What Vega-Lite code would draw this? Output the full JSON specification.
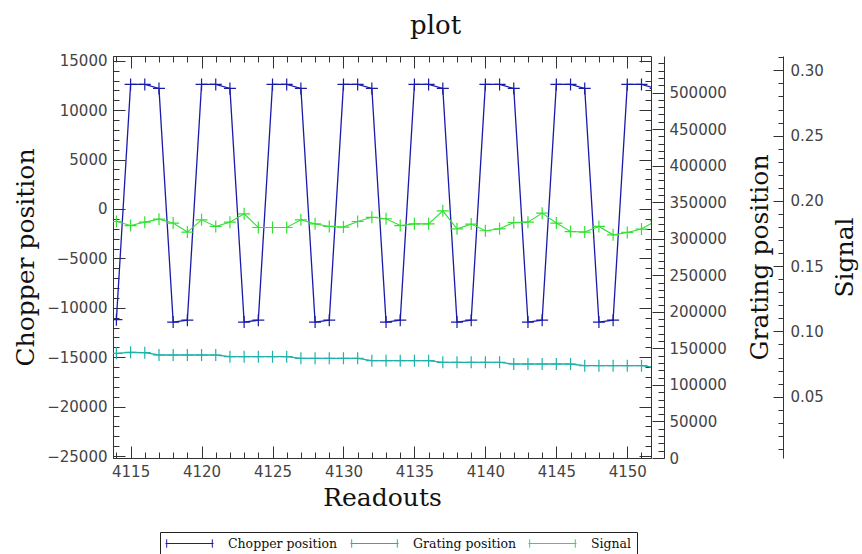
{
  "$schema": "https://vega.github.io/schema/vega-lite/v6.json",
  "autosize": "none",
  "width": 538,
  "height": 402,
  "padding": {"left": 113, "top": 56, "right": 211, "bottom": 96},
  "background": "white",
  "title": {"text": "plot", "font": "DejaVu Serif", "fontSize": 26, "fontWeight": "normal", "color": "#111", "anchor": "middle", "frame": "bounds", "offset": 15},
  "config": {
    "view": {"stroke": "#333", "strokeWidth": 1},
    "axis": {
      "grid": false,
      "labelFont": "DejaVu Sans",
      "labelFontSize": 15,
      "labelColor": "#444",
      "tickColor": "#333",
      "domainColor": "#333",
      "tickWidth": 1,
      "titleFont": "DejaVu Serif",
      "titleFontSize": 25,
      "titleFontWeight": "normal",
      "titleColor": "#111"
    },
    "legend": {
      "orient": "none", "legendX": 47, "legendY": 476, "direction": "horizontal", "strokeColor": "#222", "padding": 5,
      "symbolType": "M-1,0L7,0M-0.8,-0.7L-0.8,0.7M6.8,-0.7L6.8,0.7", "symbolSize": 144, "symbolStrokeWidth": 1, "symbolFillColor": "transparent",
      "labelFont": "DejaVu Serif", "labelFontSize": 12.5, "labelColor": "#111", "labelOffset": 50, "columnPadding": 10
    }
  },
  "data": {
    "values": [
      {"r": 4114, "c": -11200, "g": 143200, "s": 0.1842},
      {"r": 4115, "c": 12600, "g": 144600, "s": 0.1811},
      {"r": 4116, "c": 12600, "g": 144100, "s": 0.1837},
      {"r": 4117, "c": 12200, "g": 140900, "s": 0.1860},
      {"r": 4118, "c": -11450, "g": 140900, "s": 0.1830},
      {"r": 4119, "c": -11250, "g": 140900, "s": 0.1761},
      {"r": 4120, "c": 12600, "g": 140900, "s": 0.1855},
      {"r": 4121, "c": 12600, "g": 140900, "s": 0.1804},
      {"r": 4122, "c": 12200, "g": 138600, "s": 0.1837},
      {"r": 4123, "c": -11450, "g": 138600, "s": 0.1901},
      {"r": 4124, "c": -11250, "g": 138600, "s": 0.1796},
      {"r": 4125, "c": 12600, "g": 138600, "s": 0.1796},
      {"r": 4126, "c": 12600, "g": 138600, "s": 0.1796},
      {"r": 4127, "c": 12200, "g": 136400, "s": 0.1855},
      {"r": 4128, "c": -11450, "g": 136400, "s": 0.1824},
      {"r": 4129, "c": -11250, "g": 136400, "s": 0.1804},
      {"r": 4130, "c": 12600, "g": 136400, "s": 0.1799},
      {"r": 4131, "c": 12600, "g": 136400, "s": 0.1842},
      {"r": 4132, "c": 12200, "g": 133100, "s": 0.1874},
      {"r": 4133, "c": -11450, "g": 133100, "s": 0.1863},
      {"r": 4134, "c": -11250, "g": 133100, "s": 0.1811},
      {"r": 4135, "c": 12600, "g": 133100, "s": 0.1824},
      {"r": 4136, "c": 12600, "g": 133100, "s": 0.1824},
      {"r": 4137, "c": 12200, "g": 130900, "s": 0.1924},
      {"r": 4138, "c": -11450, "g": 130900, "s": 0.1786},
      {"r": 4139, "c": -11250, "g": 130900, "s": 0.1822},
      {"r": 4140, "c": 12600, "g": 130900, "s": 0.1771},
      {"r": 4141, "c": 12600, "g": 130900, "s": 0.1786},
      {"r": 4142, "c": 12200, "g": 128600, "s": 0.1834},
      {"r": 4143, "c": -11450, "g": 128600, "s": 0.1837},
      {"r": 4144, "c": -11250, "g": 128600, "s": 0.1906},
      {"r": 4145, "c": 12600, "g": 128600, "s": 0.1830},
      {"r": 4146, "c": 12600, "g": 128600, "s": 0.1765},
      {"r": 4147, "c": 12200, "g": 126300, "s": 0.1761},
      {"r": 4148, "c": -11450, "g": 126300, "s": 0.1804},
      {"r": 4149, "c": -11250, "g": 126300, "s": 0.1740},
      {"r": 4150, "c": 12600, "g": 126300, "s": 0.1758},
      {"r": 4151, "c": 12600, "g": 126300, "s": 0.1784},
      {"r": 4152, "c": 12200, "g": 124000, "s": 0.1847}
    ]
  },
  "resolve": {"scale": {"y": "independent"}, "axis": {"x": "independent", "y": "independent"}},
  "layer": [
    {
      "mark": {"type": "line", "strokeWidth": 1.3, "clip": true},
      "encoding": {
        "x": {"field": "r", "type": "quantitative", "scale": {"domain": [4113.76, 4151.67], "nice": false, "zero": false},
          "axis": {"orient": "bottom", "values": [4115, 4120, 4125, 4130, 4135, 4140, 4145, 4150], "format": "d", "tickSize": -12, "labelPadding": 18, "title": "Readouts", "titlePadding": 6}},
        "y": {"field": "c", "type": "quantitative", "scale": {"domain": [-25200, 15480], "nice": false, "zero": false},
          "axis": {"orient": "left", "values": [-25000, -20000, -15000, -10000, -5000, 0, 5000, 10000, 15000], "format": "d", "tickSize": -12, "labelPadding": 18, "title": "Chopper position", "titlePadding": 8}},
        "color": {"datum": "Chopper position", "type": "nominal",
          "scale": {"domain": ["Chopper position", "Grating position", "Signal"], "range": ["#1a1aaa", "#20b2aa", "#33e033"]},
          "legend": {"title": null}}
      }
    },
    {
      "mark": {"type": "point", "shape": "M-1,0L1,0M0,-1L0,1", "filled": false, "size": 144, "strokeWidth": 1.2, "opacity": 1, "clip": true},
      "encoding": {
        "x": {"field": "r", "type": "quantitative", "scale": {"domain": [4113.76, 4151.67], "nice": false, "zero": false},
          "axis": {"orient": "bottom", "values": [4114, 4115, 4116, 4117, 4118, 4119, 4120, 4121, 4122, 4123, 4124, 4125, 4126, 4127, 4128, 4129, 4130, 4131, 4132, 4133, 4134, 4135, 4136, 4137, 4138, 4139, 4140, 4141, 4142, 4143, 4144, 4145, 4146, 4147, 4148, 4149, 4150, 4151], "tickSize": -6, "labels": false, "domain": false, "title": null}},
        "y": {"field": "c", "type": "quantitative", "scale": {"domain": [-25200, 15480], "nice": false, "zero": false},
          "axis": {"orient": "left", "values": [-25000, -24000, -23000, -22000, -21000, -20000, -19000, -18000, -17000, -16000, -15000, -14000, -13000, -12000, -11000, -10000, -9000, -8000, -7000, -6000, -5000, -4000, -3000, -2000, -1000, 0, 1000, 2000, 3000, 4000, 5000, 6000, 7000, 8000, 9000, 10000, 11000, 12000, 13000, 14000, 15000], "tickSize": -6, "labels": false, "domain": false, "title": null}},
        "color": {"datum": "Chopper position", "type": "nominal", "legend": {"title": null}}
      }
    },
    {
      "mark": {"type": "line", "strokeWidth": 1.3, "clip": true},
      "encoding": {
        "x": {"field": "r", "type": "quantitative", "scale": {"domain": [4113.76, 4151.67], "nice": false, "zero": false},
          "axis": {"orient": "top", "values": [4115, 4120, 4125, 4130, 4135, 4140, 4145, 4150], "tickSize": -12, "labels": false, "domain": false, "title": null}},
        "y": {"field": "g", "type": "quantitative", "scale": {"domain": [0, 550000], "nice": false, "zero": false},
          "axis": {"orient": "right", "offset": 13, "values": [0, 50000, 100000, 150000, 200000, 250000, 300000, 350000, 400000, 450000, 500000], "format": "d", "tickSize": -12, "labelPadding": 17, "title": "Grating position", "titleAngle": 270, "titleBaseline": "top", "titlePadding": 21}},
        "color": {"datum": "Grating position", "type": "nominal", "legend": {"title": null}}
      }
    },
    {
      "mark": {"type": "point", "shape": "M-1,0L1,0M0,-1L0,1", "filled": false, "size": 144, "strokeWidth": 1.2, "opacity": 1, "clip": true},
      "encoding": {
        "x": {"field": "r", "type": "quantitative", "scale": {"domain": [4113.76, 4151.67], "nice": false, "zero": false},
          "axis": {"orient": "top", "values": [4114, 4115, 4116, 4117, 4118, 4119, 4120, 4121, 4122, 4123, 4124, 4125, 4126, 4127, 4128, 4129, 4130, 4131, 4132, 4133, 4134, 4135, 4136, 4137, 4138, 4139, 4140, 4141, 4142, 4143, 4144, 4145, 4146, 4147, 4148, 4149, 4150, 4151], "tickSize": -6, "labels": false, "domain": false, "title": null}},
        "y": {"field": "g", "type": "quantitative", "scale": {"domain": [0, 550000], "nice": false, "zero": false},
          "axis": {"orient": "right", "offset": 13, "values": [0, 10000, 20000, 30000, 40000, 50000, 60000, 70000, 80000, 90000, 100000, 110000, 120000, 130000, 140000, 150000, 160000, 170000, 180000, 190000, 200000, 210000, 220000, 230000, 240000, 250000, 260000, 270000, 280000, 290000, 300000, 310000, 320000, 330000, 340000, 350000, 360000, 370000, 380000, 390000, 400000, 410000, 420000, 430000, 440000, 450000, 460000, 470000, 480000, 490000, 500000, 510000, 520000, 530000, 540000], "tickSize": -6, "labels": false, "domain": false, "title": null}},
        "color": {"datum": "Grating position", "type": "nominal", "legend": {"title": null}}
      }
    },
    {
      "mark": {"type": "line", "strokeWidth": 1.1, "clip": true},
      "encoding": {
        "x": {"field": "r", "type": "quantitative", "scale": {"domain": [4113.76, 4151.67], "nice": false, "zero": false}, "axis": null},
        "y": {"field": "s", "type": "quantitative", "scale": {"domain": [0.003, 0.311], "nice": false, "zero": false},
          "axis": {"orient": "right", "offset": 132, "values": [0.05, 0.1, 0.15, 0.2, 0.25, 0.3], "format": ".2f", "tickSize": -10, "labelPadding": 17, "title": "Signal", "titleAngle": 270, "titleBaseline": "top", "titlePadding": 9}},
        "color": {"datum": "Signal", "type": "nominal", "legend": {"title": null}}
      }
    },
    {
      "mark": {"type": "point", "shape": "M-1,0L1,0M0,-1L0,1", "filled": false, "size": 144, "strokeWidth": 1.2, "opacity": 1, "clip": true},
      "encoding": {
        "x": {"field": "r", "type": "quantitative", "scale": {"domain": [4113.76, 4151.67], "nice": false, "zero": false}, "axis": null},
        "y": {"field": "s", "type": "quantitative", "scale": {"domain": [0.003, 0.311], "nice": false, "zero": false},
          "axis": {"orient": "right", "offset": 132, "values": [0.01, 0.02, 0.03, 0.04, 0.05, 0.06, 0.07, 0.08, 0.09, 0.1, 0.11, 0.12, 0.13, 0.14, 0.15, 0.16, 0.17, 0.18, 0.19, 0.2, 0.21, 0.22, 0.23, 0.24, 0.25, 0.26, 0.27, 0.28, 0.29, 0.3, 0.31], "tickSize": -5, "labels": false, "domain": false, "title": null}},
        "color": {"datum": "Signal", "type": "nominal", "legend": {"title": null}}
      }
    },
    {
      "mark": {"type": "point", "opacity": 0, "clip": true},
      "encoding": {
        "x": {"field": "r", "type": "quantitative", "scale": {"domain": [4113.76, 4151.67], "nice": false, "zero": false}, "axis": null},
        "y": {"field": "c", "type": "quantitative", "scale": {"domain": [-25200, 15480], "nice": false, "zero": false},
          "axis": {"orient": "right", "offset": 0, "values": [-25000, -20000, -15000, -10000, -5000, 0, 5000, 10000, 15000], "tickSize": -12, "labels": false, "domain": false, "title": null}}
      }
    },
    {
      "mark": {"type": "point", "opacity": 0, "clip": true},
      "encoding": {
        "x": {"field": "r", "type": "quantitative", "scale": {"domain": [4113.76, 4151.67], "nice": false, "zero": false}, "axis": null},
        "y": {"field": "c", "type": "quantitative", "scale": {"domain": [-25200, 15480], "nice": false, "zero": false},
          "axis": {"orient": "right", "offset": 0, "values": [-25000, -24000, -23000, -22000, -21000, -20000, -19000, -18000, -17000, -16000, -15000, -14000, -13000, -12000, -11000, -10000, -9000, -8000, -7000, -6000, -5000, -4000, -3000, -2000, -1000, 0, 1000, 2000, 3000, 4000, 5000, 6000, 7000, 8000, 9000, 10000, 11000, 12000, 13000, 14000, 15000], "tickSize": -6, "labels": false, "domain": false, "title": null}}
      }
    }
  ]
}
